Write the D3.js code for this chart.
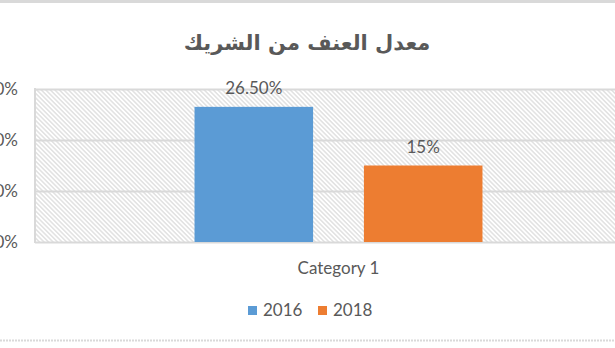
<!DOCTYPE html>
<html>
<head>
<meta charset="utf-8">
<script src="https://cdn.jsdelivr.net/npm/d3@7"></script>
<style>
  html, body { margin: 0; padding: 0; background: #fff; }
  svg { display: block; }
</style>
</head>
<body>
<svg width="615" height="348"></svg>
<script>
//  chart data
const title = 'معدل العنف من الشريك';
const categories = ['Category 1'];
const seriesNames = ['2016', '2018'];
const seriesValues = [26.5, 15];
const seriesLabels = ['26.50%', '15%'];
const seriesColors = ['#5b9bd5', '#ed7d31'];
const yTicks = [0, 10, 20, 30];

const svg = d3.select('svg');
const font = 'Lato, "Open Sans", sans-serif';
const textColor = '#595959';
const gridColor = '#d9d9d9';

//  plot area (runs past the right edge like the cropped original)
const plot = { left: 35, right: 642, top: 89, bottom: 242 };

//  hatched background pattern
const defs = svg.append('defs');
const hatch = defs.append('pattern')
    .attr('id', 'hatch')
    .attr('patternUnits', 'userSpaceOnUse')
    .attr('width', 3.2)
    .attr('height', 3.2)
    .attr('patternTransform', 'rotate(-45)');
hatch.append('line')
    .attr('x1', 0.8).attr('y1', 0)
    .attr('x2', 0.8).attr('y2', 3.2)
    .attr('stroke', '#d2d2d2')
    .attr('stroke-width', 1);

//  outer chart border bits
svg.append('rect')
    .attr('x', 0).attr('y', 0)
    .attr('width', 615).attr('height', 3)
    .attr('fill', gridColor);
svg.append('line')
    .attr('x1', 0).attr('x2', 615)
    .attr('y1', 340.5).attr('y2', 340.5)
    .attr('stroke', gridColor)
    .attr('stroke-width', 2)
    .attr('stroke-dasharray', '2,1');

//  title
svg.append('text')
    .attr('x', 307)
    .attr('y', 50)
    .attr('text-anchor', 'middle')
    .attr('direction', 'rtl')
    .attr('font-family', '"DejaVu Sans", sans-serif')
    .attr('font-weight', 'bold')
    .attr('font-size', 21)
    .attr('fill', textColor)
    .text(title);

//  scales
const x0 = d3.scaleBand()
    .domain(categories)
    .range([plot.left, plot.right])
    .paddingInner(0)
    .paddingOuter(0.554);

const x1 = d3.scaleBand()
    .domain(seriesNames)
    .range([0, x0.bandwidth()])
    .paddingInner(0.3)
    .paddingOuter(0);

const y = d3.scaleLinear()
    .domain([0, 30])
    .range([plot.bottom, plot.top]);

//  background
svg.append('rect')
    .attr('x', plot.left)
    .attr('y', plot.top)
    .attr('width', plot.right - plot.left)
    .attr('height', plot.bottom - plot.top)
    .attr('fill', 'url(#hatch)');

//  gridlines + y labels
const yAxis = d3.axisLeft(y)
    .tickValues(yTicks)
    .tickFormat(d => d + '%')
    .tickSize(-(plot.right - plot.left))
    .tickPadding(17);

const yG = svg.append('g')
    .attr('transform', `translate(${plot.left},0)`)
    .call(yAxis);
yG.select('.domain').remove();
yG.selectAll('.tick line')
    .attr('stroke', gridColor)
    .attr('stroke-width', 2);
yG.selectAll('.tick text')
    .attr('font-family', font)
    .attr('font-size', 17)
    .attr('fill', textColor);

//  plot area left border
svg.append('line')
    .attr('x1', plot.left).attr('x2', plot.left)
    .attr('y1', plot.top - 1).attr('y2', plot.bottom + 1)
    .attr('stroke', gridColor)
    .attr('stroke-width', 2);

//  bars
const bars = svg.append('g');
categories.forEach(cat => {
    seriesNames.forEach((s, i) => {
        const bx = x0(cat) + x1(s);
        bars.append('rect')
            .attr('x', bx)
            .attr('y', y(seriesValues[i]))
            .attr('width', x1.bandwidth())
            .attr('height', y(0) - y(seriesValues[i]))
            .attr('fill', seriesColors[i]);
        bars.append('text')
            .attr('x', bx + x1.bandwidth() / 2)
            .attr('y', y(seriesValues[i]) - 13)
            .attr('text-anchor', 'middle')
            .attr('font-family', font)
            .attr('font-size', 17)
            .attr('fill', textColor)
            .text(seriesLabels[i]);
    });
});

//  category axis label
const xAxis = d3.axisBottom(x0).tickSize(0).tickPadding(20);
const xG = svg.append('g')
    .attr('transform', `translate(0,${plot.bottom})`)
    .call(xAxis);
xG.select('.domain').remove();
xG.selectAll('.tick text')
    .attr('font-family', font)
    .attr('font-size', 17)
    .attr('fill', textColor);

//  legend
const legend = svg.append('g').attr('transform', 'translate(248,306)');
const legendX = [0, 70];
seriesNames.forEach((s, i) => {
    const item = legend.append('g').attr('transform', `translate(${legendX[i]},0)`);
    item.append('rect')
        .attr('width', 9).attr('height', 9)
        .attr('fill', seriesColors[i]);
    item.append('text')
        .attr('x', 15)
        .attr('y', 10)
        .attr('font-family', font)
        .attr('font-size', 17)
        .attr('fill', textColor)
        .text(s);
});
</script>
</body>
</html>
